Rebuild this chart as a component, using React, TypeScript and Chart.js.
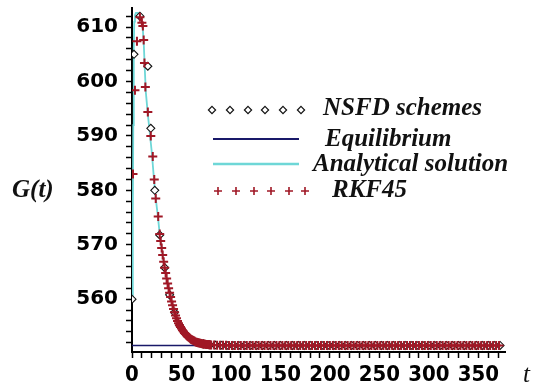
import React, { useEffect, useRef } from 'react';
import { Chart, registerables } from 'chart.js';

Chart.register(...registerables);

// ---------- data ----------
const analyticT = [0, 0.8, 1.3, 1.8, 2.3, 3, 4, 6, 8, 9, 10, 11, 12, 13, 14, 16, 18, 20, 22, 24, 26, 28, 30, 32, 34, 36, 38, 40, 43, 48, 55, 65, 78, 90, 100, 150, 200, 250, 300, 372];
const analyticG = [560, 575, 592, 606, 611, 612.2, 612.6, 612.6, 612.2, 611.6, 610.8, 609.5, 606.5, 602, 598, 594, 590.5, 587, 582.5, 578.5, 575.5, 572, 569.4, 566.9, 564.8, 562.9, 561.2, 559.6, 557.6, 555.2, 553.4, 552.1, 551.64, 551.55, 551.5, 551.5, 551.5, 551.5, 551.5, 551.5];

const equilibriumT = [0, 375];
const equilibriumG = [551.5, 551.5];

const nsfdT = [0, 2, 8, 16, 19, 23, 28, 33, 38, 43, 48, 54, 60, 66, 72, 78, 84, 90, 96, 102, 108, 114, 120, 126, 132, 138, 144, 150, 156, 162, 168, 174, 180, 186, 192, 198, 204, 210, 216, 222, 228, 234, 240, 246, 252, 258, 264, 270, 276, 282, 288, 294, 300, 306, 312, 318, 324, 330, 336, 342, 348, 354, 360, 366, 372];
const nsfdG = [560, 605, 612, 602.8, 591.4, 580, 571.8, 565.8, 560.8, 557.6, 555.2, 553.6, 552.6, 552.05, 551.79, 551.64, 551.58, 551.55, 551.5, 551.5, 551.5, 551.5, 551.5, 551.5, 551.5, 551.5, 551.5, 551.5, 551.5, 551.5, 551.5, 551.5, 551.5, 551.5, 551.5, 551.5, 551.5, 551.5, 551.5, 551.5, 551.5, 551.5, 551.5, 551.5, 551.5, 551.5, 551.5, 551.5, 551.5, 551.5, 551.5, 551.5, 551.5, 551.5, 551.5, 551.5, 551.5, 551.5, 551.5, 551.5, 551.5, 551.5, 551.5, 551.5, 551.5];

const rkfT = [1, 3, 5, 8, 10, 11, 11.8, 12.6, 13.5, 16, 19, 21, 22.5, 24, 26.5, 28, 29, 30, 31, 32, 33, 34, 35, 36, 37, 38, 39, 40, 41, 42, 43, 44, 45, 46, 47, 48, 49, 50, 51, 52, 53, 54, 55, 56, 57, 58, 59, 60, 61, 62, 63, 64, 65, 66, 67, 68, 69, 70, 71, 72, 73, 74, 75, 76, 77, 78, 79, 80,
  83, 86, 89, 92, 95, 98, 101, 104, 107, 110, 113, 116, 119, 122, 125, 128, 131, 134, 137, 140, 143, 146, 149, 152, 155, 158, 161, 164, 167, 170, 173, 176, 179, 182, 185, 188, 191, 194, 197, 200, 203, 206, 209, 212, 215, 218, 221, 224, 227, 230, 233, 236, 239, 242, 245, 248, 251, 254, 257, 260, 263, 266, 269, 272, 275, 278, 281, 284, 287, 290, 293, 296, 299, 302, 305, 308, 311, 314, 317, 320, 323, 326, 329, 332, 335, 338, 341, 344, 347, 350, 353, 356, 359, 362, 365, 368, 371, 373];
const rkfG = [583, 598.4, 607.4, 611.8, 610.8, 610.2, 607.6, 603.4, 599, 594.4, 590, 586.2, 582, 578.5, 575.2, 572, 570.7, 569.4, 568.1, 566.9, 565.8, 564.8, 563.8, 562.9, 562, 561.2, 560.4, 559.6, 558.9, 558.2, 557.6, 557, 556.5, 556, 555.6, 555.2, 554.9, 554.6, 554.3, 554.05, 553.8, 553.6, 553.4, 553.2, 553.05, 552.9, 552.75, 552.6, 552.5, 552.4, 552.3, 552.2, 552.1, 552.05, 552, 551.95, 551.9, 551.85, 551.82, 551.79, 551.76, 551.73, 551.7, 551.68, 551.66, 551.64, 551.62, 551.6,
  551.58, 551.56, 551.55, 551.54, 551.52, 551.5, 551.5, 551.5, 551.5, 551.5, 551.5, 551.5, 551.5, 551.5, 551.5, 551.5, 551.5, 551.5, 551.5, 551.5, 551.5, 551.5, 551.5, 551.5, 551.5, 551.5, 551.5, 551.5, 551.5, 551.5, 551.5, 551.5, 551.5, 551.5, 551.5, 551.5, 551.5, 551.5, 551.5, 551.5, 551.5, 551.5, 551.5, 551.5, 551.5, 551.5, 551.5, 551.5, 551.5, 551.5, 551.5, 551.5, 551.5, 551.5, 551.5, 551.5, 551.5, 551.5, 551.5, 551.5, 551.5, 551.5, 551.5, 551.5, 551.5, 551.5, 551.5, 551.5, 551.5, 551.5, 551.5, 551.5, 551.5, 551.5, 551.5, 551.5, 551.5, 551.5, 551.5, 551.5, 551.5, 551.5, 551.5, 551.5, 551.5, 551.5, 551.5, 551.5, 551.5, 551.5, 551.5, 551.5, 551.5, 551.5, 551.5, 551.5, 551.5];

const xTickValues = [0, 10, 20, 30, 40, 50, 60, 70, 80, 90, 100, 110, 120, 130, 140, 150, 160, 170, 180, 190, 200, 210, 220, 230, 240, 250, 260, 270, 280, 290, 300, 310, 320, 330, 340, 350, 360, 370];
const xTickLabels = ['0', '50', '100', '150', '200', '250', '300', '350'];
const yTickValues = [552, 554, 556, 558, 560, 562, 564, 566, 568, 570, 572, 574, 576, 578, 580, 582, 584, 586, 588, 590, 592, 594, 596, 598, 600, 602, 604, 606, 608, 610, 612];
const yTickLabels = ['560', '570', '580', '590', '600', '610'];

const seriesLabels = ['NSFD schemes', 'Equilibrium', 'Analytical solution', 'RKF45'];
const xTitle = 't';
const yTitle = 'G(t)';

// ---------- styles ----------
const NAVY = 'rgb(25,25,105)';
const CYAN = 'rgb(110,215,215)';
const RED = 'rgb(160,24,38)';

const pts = (xs: number[], ys: number[]) => xs.map((x, i) => ({ x, y: ys[i] }));

function drawCross(c: CanvasRenderingContext2D, x: number, y: number, r: number) {
  c.beginPath();
  c.moveTo(x - r, y);
  c.lineTo(x + r, y);
  c.moveTo(x, y - r);
  c.lineTo(x, y + r);
  c.stroke();
}
function drawDiamond(c: CanvasRenderingContext2D, x: number, y: number, r: number) {
  c.beginPath();
  c.moveTo(x, y - r);
  c.lineTo(x + r, y);
  c.lineTo(x, y + r);
  c.lineTo(x - r, y);
  c.closePath();
  c.fillStyle = '#fff';
  c.fill();
  c.stroke();
}

const overlay = {
  id: 'overlay',
  afterDraw(chart: any) {
    const c: CanvasRenderingContext2D = chart.ctx;
    const labels = chart.data.datasets.map((d: any) => d.label);
    c.save();
    c.fillStyle = '#111';
    c.textBaseline = 'alphabetic';
    c.textAlign = 'left';
    c.font = 'italic bold 25px "Liberation Serif"';
    c.fillText(yTitle, 12, 197);
    c.font = 'italic 25px "Liberation Serif"';
    c.fillText(xTitle, 523, 382);

    c.font = 'italic bold 25px "Liberation Serif"';
    c.strokeStyle = '#111';
    c.lineWidth = 1.2;
    [212, 230, 248, 265, 283, 301].forEach((x) => drawDiamond(c, x, 110, 3.6));
    c.fillStyle = '#111';
    c.fillText(labels[0], 323, 115);
    c.strokeStyle = NAVY;
    c.lineWidth = 2;
    c.beginPath();
    c.moveTo(213, 139);
    c.lineTo(299, 139);
    c.stroke();
    c.fillText(labels[1], 325, 146);
    c.strokeStyle = CYAN;
    c.lineWidth = 2.5;
    c.beginPath();
    c.moveTo(213, 164);
    c.lineTo(299, 164);
    c.stroke();
    c.fillText(labels[2], 313, 171);
    c.strokeStyle = RED;
    c.lineWidth = 1.6;
    [218, 236, 254, 271, 289, 305].forEach((x) => drawCross(c, x, 191, 4));
    c.fillText(labels[3], 332, 197);
    c.restore();
  },
};

export default function App() {
  const ref = useRef<HTMLCanvasElement>(null);
  useEffect(() => {
    const canvas = ref.current!;
    const chart = new Chart(canvas, {
      type: 'scatter',
      data: {
        datasets: [
          {
            label: seriesLabels[0],
            data: pts(nsfdT, nsfdG),
            showLine: false,
            pointStyle: 'rectRot',
            pointRadius: 4,
            pointBorderWidth: 1.1,
            pointBorderColor: '#111',
            pointBackgroundColor: '#fff',
            order: 1,
          },
          {
            label: seriesLabels[1],
            data: pts(equilibriumT, equilibriumG),
            showLine: true,
            borderColor: NAVY,
            borderWidth: 1.6,
            pointRadius: 0,
            order: 3,
          },
          {
            label: seriesLabels[2],
            data: pts(analyticT, analyticG),
            showLine: true,
            borderColor: CYAN,
            borderWidth: 1.8,
            pointRadius: 0,
            tension: 0,
            order: 2,
          },
          {
            label: seriesLabels[3],
            data: pts(rkfT, rkfG),
            showLine: false,
            pointStyle: 'cross',
            pointRadius: 4.5,
            pointBorderWidth: 2,
            pointBorderColor: RED,
            order: 0,
          },
        ],
      },
      options: {
        animation: false,
        responsive: true,
        maintainAspectRatio: false,
        layout: { padding: { top: 8, right: 30, left: 0, bottom: 0 } },
        plugins: { legend: { display: false }, tooltip: { enabled: false } },
        scales: {
          x: {
            type: 'linear',
            min: 0,
            max: 377,
            afterBuildTicks: (axis: any) => {
              axis.ticks = xTickValues.map((v) => ({ value: v }));
            },
            afterFit: (axis: any) => {
              axis.height = 33;
              axis.paddingLeft = 0;
              axis.paddingRight = 0;
            },
            ticks: {
              autoSkip: false,
              maxRotation: 0,
              padding: 4,
              color: '#000',
              font: { family: "'Liberation Sans Narrow', 'DejaVu Sans Condensed', sans-serif", weight: 'bold', size: 22 },
              callback: (v: any) => (xTickLabels.includes(String(v)) ? String(v) : ''),
            },
            grid: { drawOnChartArea: false, drawTicks: true, tickLength: 6, tickColor: '#000', tickWidth: 1.5 },
            border: { display: true, color: '#000', width: 2 },
          },
          y: {
            type: 'linear',
            min: 550.3,
            max: 613.5,
            afterBuildTicks: (axis: any) => {
              axis.ticks = yTickValues.map((v) => ({ value: v }));
            },
            afterFit: (axis: any) => {
              axis.width = 132;
              axis.paddingTop = 0;
              axis.paddingBottom = 0;
            },
            ticks: {
              autoSkip: false,
              padding: 8,
              color: '#000',
              font: { family: "'DejaVu Sans', sans-serif", weight: 'bold', size: 20 },
              callback: (v: any) => (yTickLabels.includes(String(v)) ? String(v) : ''),
            },
            grid: { drawOnChartArea: false, drawTicks: true, tickLength: 6, tickColor: '#000', tickWidth: 1.5 },
            border: { display: true, color: '#000', width: 2 },
          },
        },
      },
      plugins: [overlay],
    } as any);
    return () => chart.destroy();
  }, []);
  return (
    <div style={{ position: 'fixed', left: 0, top: 0, width: 535, height: 385, background: '#fff' }}>
      <canvas ref={ref} />
    </div>
  );
}
